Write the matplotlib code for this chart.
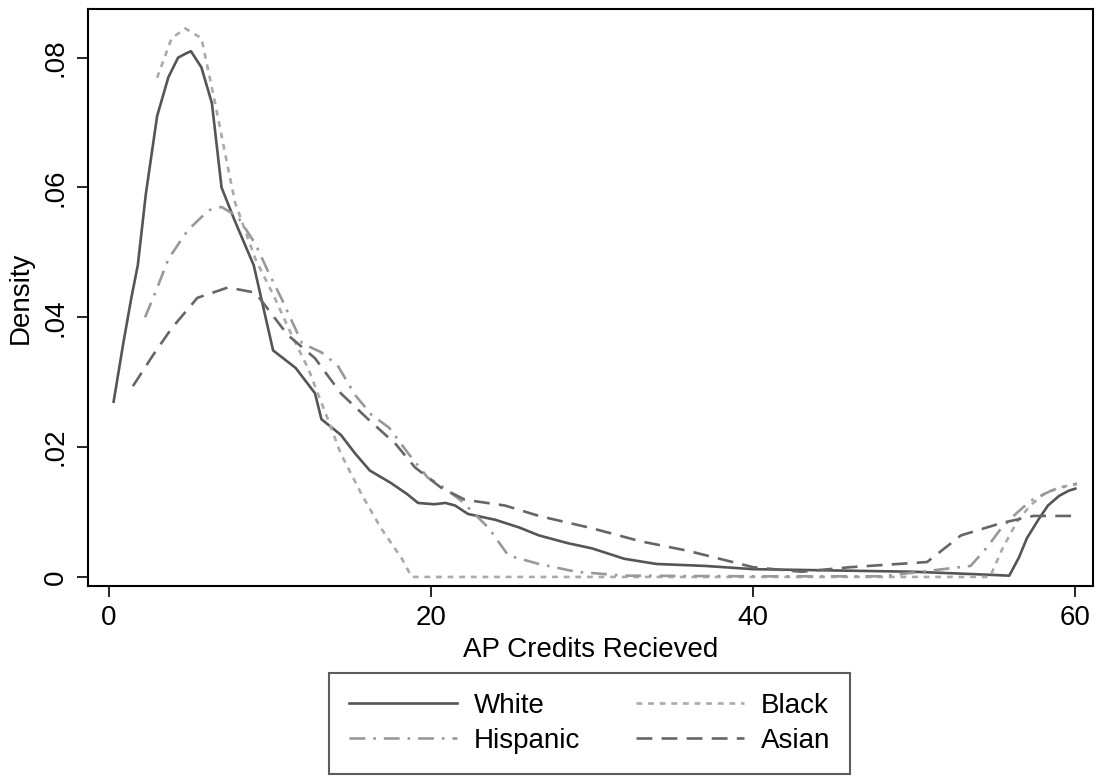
import numpy as np
import matplotlib
matplotlib.use("Agg")
import matplotlib.pyplot as plt

plt.rcParams['font.family'] = ['Liberation Sans', 'DejaVu Sans']

# Kernel density curves
white_x = [0.3, 0.9, 1.4, 1.8, 2.3, 3.0, 3.7, 4.3, 4.75, 5.1, 5.75, 6.4, 7.0, 7.8, 9.0,
           10.2, 11.6, 12.8, 13.2, 14.4, 15.3, 16.2, 17.5, 18.5, 19.2, 20.2, 20.9, 21.5,
           22.3, 24.0, 25.5, 26.7, 28.5, 30.0, 32.0, 34.0, 37.0, 40.0, 45.0, 50.0, 54.0,
           55.9, 56.5, 57.0, 57.7, 58.3, 59.0, 59.6, 60.0]
white_y = [0.027, 0.036, 0.043, 0.048, 0.059, 0.071, 0.077, 0.080, 0.0806, 0.081, 0.0785,
           0.073, 0.060, 0.055, 0.048, 0.0349, 0.0322, 0.0283, 0.0243, 0.0219, 0.019,
           0.0164, 0.0145, 0.0128, 0.0114, 0.0112, 0.0114, 0.011, 0.0097, 0.0088, 0.0076,
           0.0064, 0.0052, 0.0044, 0.0028, 0.002, 0.0017, 0.0012, 0.001, 0.0008, 0.0004,
           0.0002, 0.003, 0.006, 0.0088, 0.011, 0.0125, 0.0133, 0.0136]

black_x = [3.0, 3.9, 4.75, 5.75, 6.6, 7.4, 7.85, 9.1, 10.3, 11.4, 12.4, 12.8, 13.6, 14.4,
           15.7, 16.9, 18.2, 18.8, 30.0, 45.0, 54.7, 55.5, 56.4, 57.2, 58.0, 59.0, 60.1]
black_y = [0.0769, 0.083, 0.0845, 0.083, 0.073, 0.063, 0.0576, 0.049, 0.043, 0.037, 0.032,
           0.0294, 0.0243, 0.019, 0.0127, 0.0075, 0.0028, 0.0, 0.0, 0.0, 0.0, 0.0045,
           0.0086, 0.011, 0.0127, 0.0138, 0.0143]

hisp_x = [2.25, 3.0, 3.7, 4.9, 6.2, 7.0, 8.0, 9.1, 9.9, 10.7, 12.0, 13.2, 14.2, 15.3, 16.3,
          17.4, 18.6, 19.8, 20.5, 21.9, 23.6, 24.8, 26.7, 29.0, 32.0, 40.0, 48.0, 53.5,
          54.5, 55.4, 56.3, 57.2, 58.5, 60.1]
hisp_y = [0.040, 0.0445, 0.049, 0.0534, 0.0565, 0.057, 0.0555, 0.0513, 0.047, 0.043, 0.036,
          0.0346, 0.0326, 0.028, 0.025, 0.023, 0.019, 0.0153, 0.0143, 0.0117, 0.0075,
          0.0033, 0.002, 0.0008, 0.0002, 0.0001, 0.0001, 0.0017, 0.0045, 0.0075, 0.0097,
          0.0117, 0.0133, 0.0144]

asian_x = [1.5, 2.7, 3.9, 5.5, 7.4, 9.1, 11.1, 12.8, 14.4, 16.1, 17.8, 19.0, 20.6, 22.1,
           24.6, 26.7, 30.0, 33.0, 36.0, 40.0, 43.0, 46.0, 50.8, 52.9, 55.4, 57.4, 59.8]
asian_y = [0.0294, 0.034, 0.0383, 0.043, 0.0446, 0.0438, 0.0373, 0.0337, 0.0283, 0.0243,
           0.0205, 0.0169, 0.0138, 0.0119, 0.011, 0.0094, 0.0075, 0.0055, 0.004, 0.0015,
           0.0008, 0.0015, 0.0023, 0.0064, 0.0083, 0.0094, 0.0094]

x_ticks = [0, 20, 40, 60]
y_ticks = [0, 0.02, 0.04, 0.06, 0.08]
y_tick_labels = ['0', '.02', '.04', '.06', '.08']

fig = plt.figure(figsize=(10.96, 7.76), dpi=100)
ax = fig.add_axes([0.0803, 0.2448, 0.917, 0.7436])

l_white, = ax.plot(white_x, white_y, color='#555555', lw=1.9, ls='-', label='White')
l_black, = ax.plot(black_x, black_y, color='#aaaaaa', lw=1.9, ls=(0, (2.2, 2.2)), label='Black')
l_hisp, = ax.plot(hisp_x, hisp_y, color='#999999', lw=1.9, ls=(0, (6, 3, 1, 3)), label='Hispanic')
l_asian, = ax.plot(asian_x, asian_y, color='#666666', lw=1.9, ls=(0, (6, 3.5)), label='Asian')

ax.set_xlim(-1.29, 61.1)
ax.set_ylim(-0.0014, 0.0875)
ax.set_xticks(x_ticks)
ax.set_yticks(y_ticks)
ax.set_yticklabels(y_tick_labels, rotation=90, va='center')
ax.tick_params(labelsize=20, length=8, width=1.2, direction='out', pad=6)
for s in ax.spines.values():
    s.set_linewidth(1.5)

ax.set_xlabel('AP Credits Recieved', fontsize=20, labelpad=4)
ax.set_ylabel('Density', fontsize=20, labelpad=6)

leg = fig.legend([l_white, l_hisp, l_black, l_asian],
                 ['White', 'Hispanic', 'Black', 'Asian'],
                 ncol=2, loc='center', bbox_to_anchor=(0.538, 0.0677),
                 fontsize=20, frameon=True, fancybox=False, edgecolor='#333333',
                 handlelength=3.9, handletextpad=0.6, columnspacing=2.0,
                 labelspacing=0.33, borderpad=0.72)
leg.get_frame().set_linewidth(1.5)

fig.savefig('out.png', dpi=100)
